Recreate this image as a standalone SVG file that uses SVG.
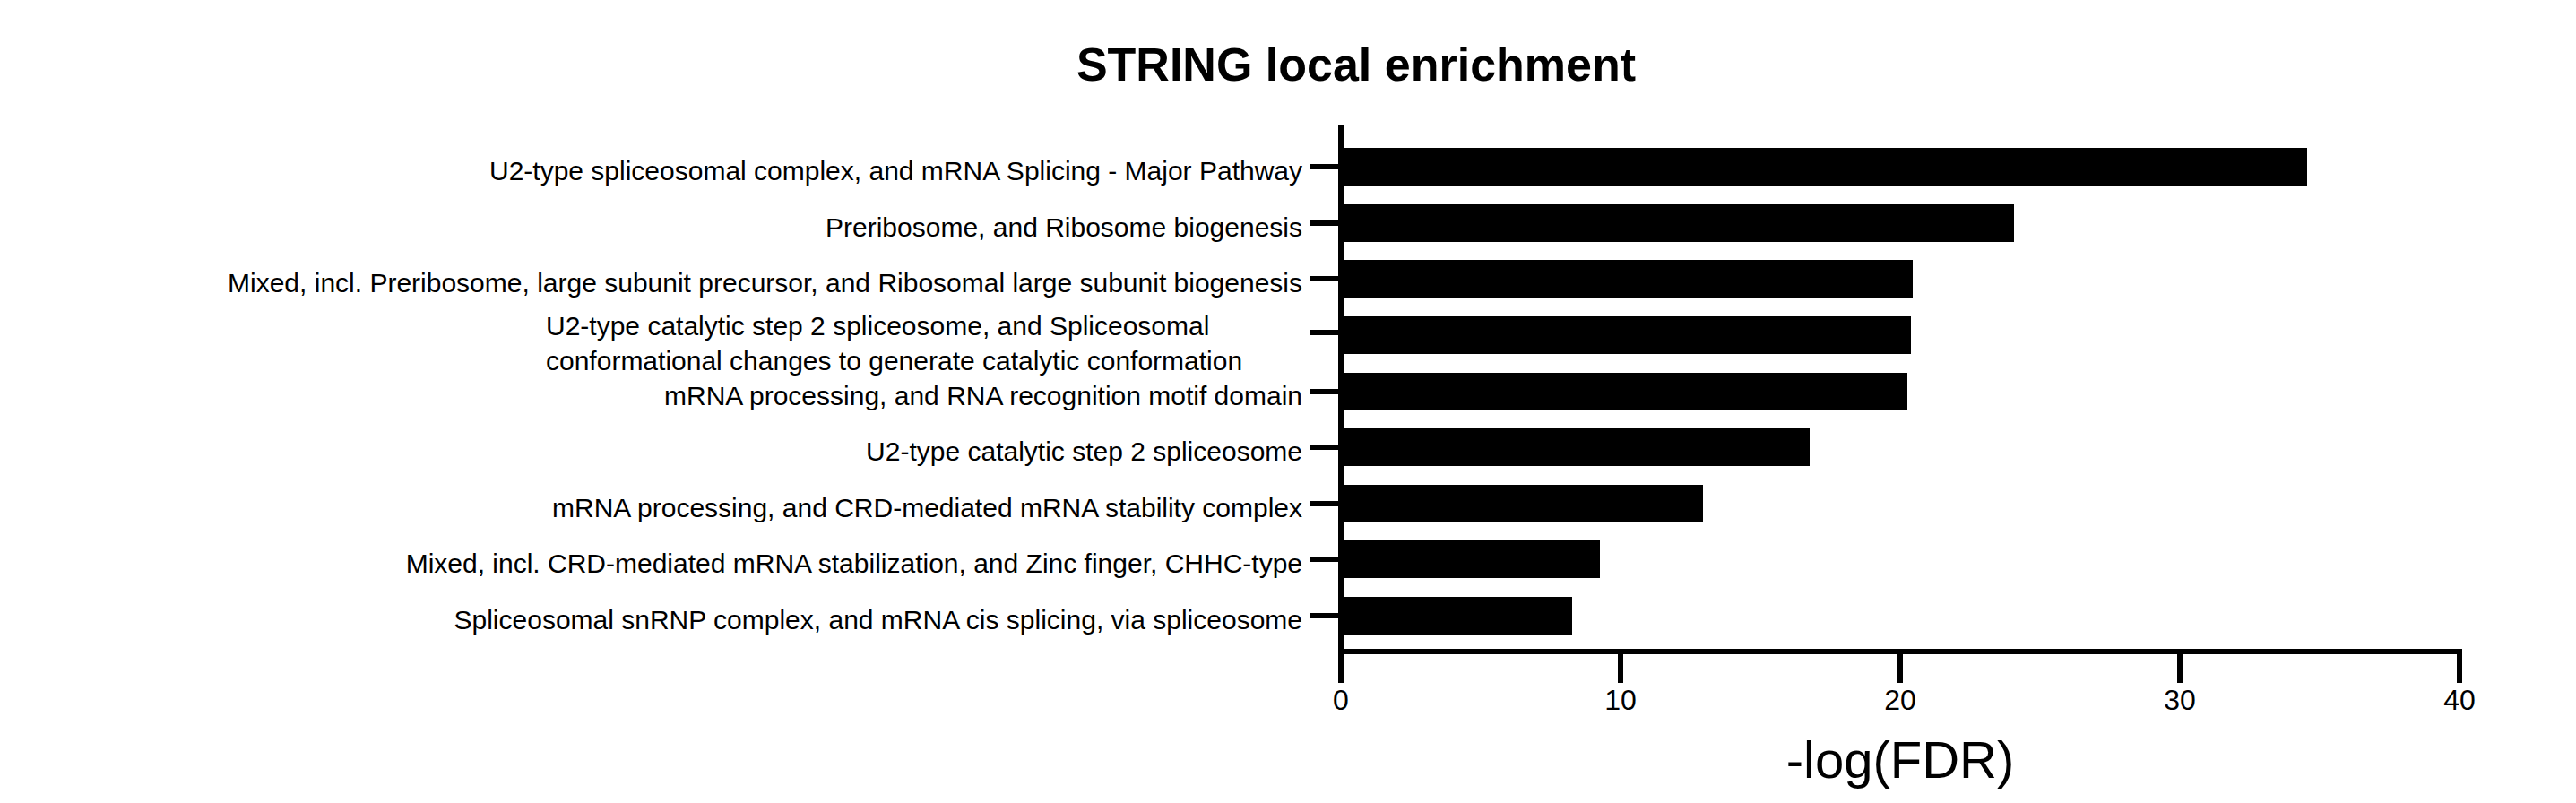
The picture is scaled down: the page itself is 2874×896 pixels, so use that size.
<svg xmlns="http://www.w3.org/2000/svg" width="2874" height="896" viewBox="0 0 2874 896">
<style>
.lbl{font-family:"Liberation Sans",Arial,sans-serif;font-size:30px;fill:#000}
.tk{font-family:"Liberation Sans",Arial,sans-serif;font-size:32px;fill:#000;text-anchor:middle}
.ax{stroke:#000;stroke-width:6;fill:none}
</style>
<rect width="2874" height="896" fill="#fff"/>
<text x="1513" y="90" font-family="Liberation Sans,Arial,sans-serif" font-size="52" font-weight="bold" text-anchor="middle">STRING local enrichment</text>
<g id="bars" fill="#000">
<rect x="1496" y="165" width="1078" height="42"/>
<rect x="1496" y="228" width="751" height="42"/>
<rect x="1496" y="290" width="638" height="42"/>
<rect x="1496" y="353" width="636" height="42"/>
<rect x="1496" y="416" width="632" height="42"/>
<rect x="1496" y="478" width="523" height="42"/>
<rect x="1496" y="541" width="404" height="42"/>
<rect x="1496" y="603" width="289" height="42"/>
<rect x="1496" y="666" width="258" height="42"/>
</g>
<g id="axes" class="ax">
<path d="M1496 139V762M1493 727H2747"/>
<path d="M1808 727V762M2120 727V762M2432 727V762M2744 727V762"/>
<path d="M1462 186H1496M1462 249H1496M1462 311H1496M1462 371H1496M1462 437H1496M1462 499H1496M1462 562H1496M1462 624H1496M1462 687H1496"/>
</g>
<g id="ticklabels">
<text class="tk" x="1496" y="792">0</text>
<text class="tk" x="1808" y="792">10</text>
<text class="tk" x="2120" y="792">20</text>
<text class="tk" x="2432" y="792">30</text>
<text class="tk" x="2744" y="792">40</text>
</g>
<text x="2120" y="868" font-family="Liberation Sans,Arial,sans-serif" font-size="58" text-anchor="middle">-log(FDR)</text>
<g id="labels" class="lbl" text-anchor="end">
<text x="1453" y="201">U2-type spliceosomal complex, and mRNA Splicing - Major Pathway</text>
<text x="1453" y="264">Preribosome, and Ribosome biogenesis</text>
<text x="1453" y="326">Mixed, incl. Preribosome, large subunit precursor, and Ribosomal large subunit biogenesis</text>
<text x="609" y="374" text-anchor="start">U2-type catalytic step 2 spliceosome, and Spliceosomal</text>
<text x="609" y="413" text-anchor="start">conformational changes to generate catalytic conformation</text>
<text x="1453" y="452">mRNA processing, and RNA recognition motif domain</text>
<text x="1453" y="514">U2-type catalytic step 2 spliceosome</text>
<text x="1453" y="577">mRNA processing, and CRD-mediated mRNA stability complex</text>
<text x="1453" y="639">Mixed, incl. CRD-mediated mRNA stabilization, and Zinc finger, CHHC-type</text>
<text x="1453" y="702">Spliceosomal snRNP complex, and mRNA cis splicing, via spliceosome</text>
</g>
</svg>
